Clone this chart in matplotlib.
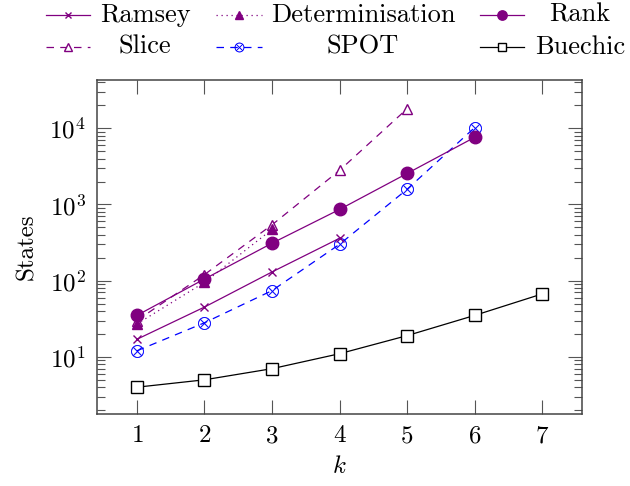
import matplotlib
matplotlib.use("Agg")
import matplotlib.pyplot as plt
from matplotlib.lines import Line2D
from matplotlib.ticker import LogLocator, NullFormatter, FixedLocator

plt.rcParams['font.family'] = ['cmr10', 'DejaVu Sans']
plt.rcParams['mathtext.fontset'] = 'cm'
plt.rcParams['axes.formatter.use_mathtext'] = True

k_all = [1, 2, 3, 4, 5, 6, 7]
ramsey_k = [1, 2, 3, 4]
ramsey = [17, 45, 130, 360]
det_k = [1, 2, 3]
det = [27, 95, 470]
rank_k = [1, 2, 3, 4, 5, 6]
rank = [35, 105, 310, 860, 2550, 7600]
slice_k = [1, 2, 3, 4, 5]
slice_v = [30, 120, 540, 2800, 18000]
spot_k = [1, 2, 3, 4, 5, 6]
spot = [12, 28, 74, 300, 1580, 10200]
buechic_k = [1, 2, 3, 4, 5, 6, 7]
buechic = [4, 5, 7, 11, 19, 35, 67]

PURPLE = '#800080'
FS = 18
LFS = 19

fig = plt.figure(figsize=(6.3, 4.86), dpi=100)
ax = fig.add_axes([97/630, (486-414)/486, (582-97)/630, (414-80)/486])

styles = {
    'Ramsey': dict(color=PURPLE, ls='-', marker='x', ms=6, mfc=PURPLE, mew=1.0),
    'Determinisation': dict(color=PURPLE, ls=(0, (1, 3)), marker='^', ms=7, mfc=PURPLE, mew=1.0),
    'Rank': dict(color=PURPLE, ls='-', marker='o', ms=9, mfc=PURPLE, mew=1.0),
    'Slice': dict(color=PURPLE, ls=(0, (6, 5)), marker='^', ms=7.5, mfc='white', mew=1.0),
    'SPOT': dict(color='blue', ls=(0, (6, 5)), marker='$\\otimes$', ms=9, mfc='blue', mew=0.3),
    'Buechic': dict(color='black', ls='-', marker='s', ms=8.5, mfc='white', mew=1.0),
}
series = [
    ('Buechic', buechic_k, buechic),
    ('SPOT', spot_k, spot),
    ('Ramsey', ramsey_k, ramsey),
    ('Slice', slice_k, slice_v),
    ('Determinisation', det_k, det),
    ('Rank', rank_k, rank),
]
for name, xs, ys in series:
    st = styles[name]
    ax.plot(xs, ys, color=st['color'], ls=st['ls'], lw=0.9, marker=st['marker'],
            ms=st['ms'], mfc=st['mfc'], mec=st['color'], mew=st['mew'], zorder=3)

ax.set_yscale('log')
ax.set_xlim(0.41, 7.59)
ax.set_ylim(1.78, 43000)
ax.xaxis.set_major_locator(FixedLocator(k_all))
ax.yaxis.set_major_locator(LogLocator(base=10, numticks=10))
ax.yaxis.set_minor_locator(LogLocator(base=10, subs=range(2, 10), numticks=20))
ax.yaxis.set_minor_formatter(NullFormatter())
ax.tick_params(which='both', direction='in', top=True, right=True, labelsize=FS,
               color='#555555')
ax.tick_params(which='major', length=10, width=0.8, pad=8)
ax.tick_params(which='minor', length=6, width=0.8)
for s in ax.spines.values():
    s.set_linewidth(1.1)
    s.set_color('#444444')

ax.set_xlabel('$k$', fontsize=FS, labelpad=6)
ax.set_ylabel('States', fontsize=FS, labelpad=8)

# legend, drawn in figure pixel coordinates (centered labels as in pgfplots)
W, H = 630, 486
legend_layout = [
    ('Ramsey', 46, 90, 145, 15), ('Determinisation', 216, 262, 363, 15), ('Rank', 480, 524, 580, 15),
    ('Slice', 46, 90, 145, 47), ('SPOT', 216, 262, 363, 47), ('Buechic', 480, 524, 580, 47),
]
for name, x0, x1, tx, ty in legend_layout:
    st = styles[name]
    yy = 1 - ty / H
    ln = Line2D([x0 / W, (x0 + x1) / 2 / W, x1 / W], [yy, yy, yy], transform=fig.transFigure,
                color=st['color'], ls=st['ls'], lw=0.9, marker=st['marker'], markevery=[1],
                ms=st['ms'] * 0.75, mfc=st['mfc'], mec=st['color'], mew=st['mew'])
    fig.add_artist(ln)
    fig.text(tx / W, yy, name, fontsize=LFS, ha='center', va='center')

fig.savefig('out.png', dpi=100)
